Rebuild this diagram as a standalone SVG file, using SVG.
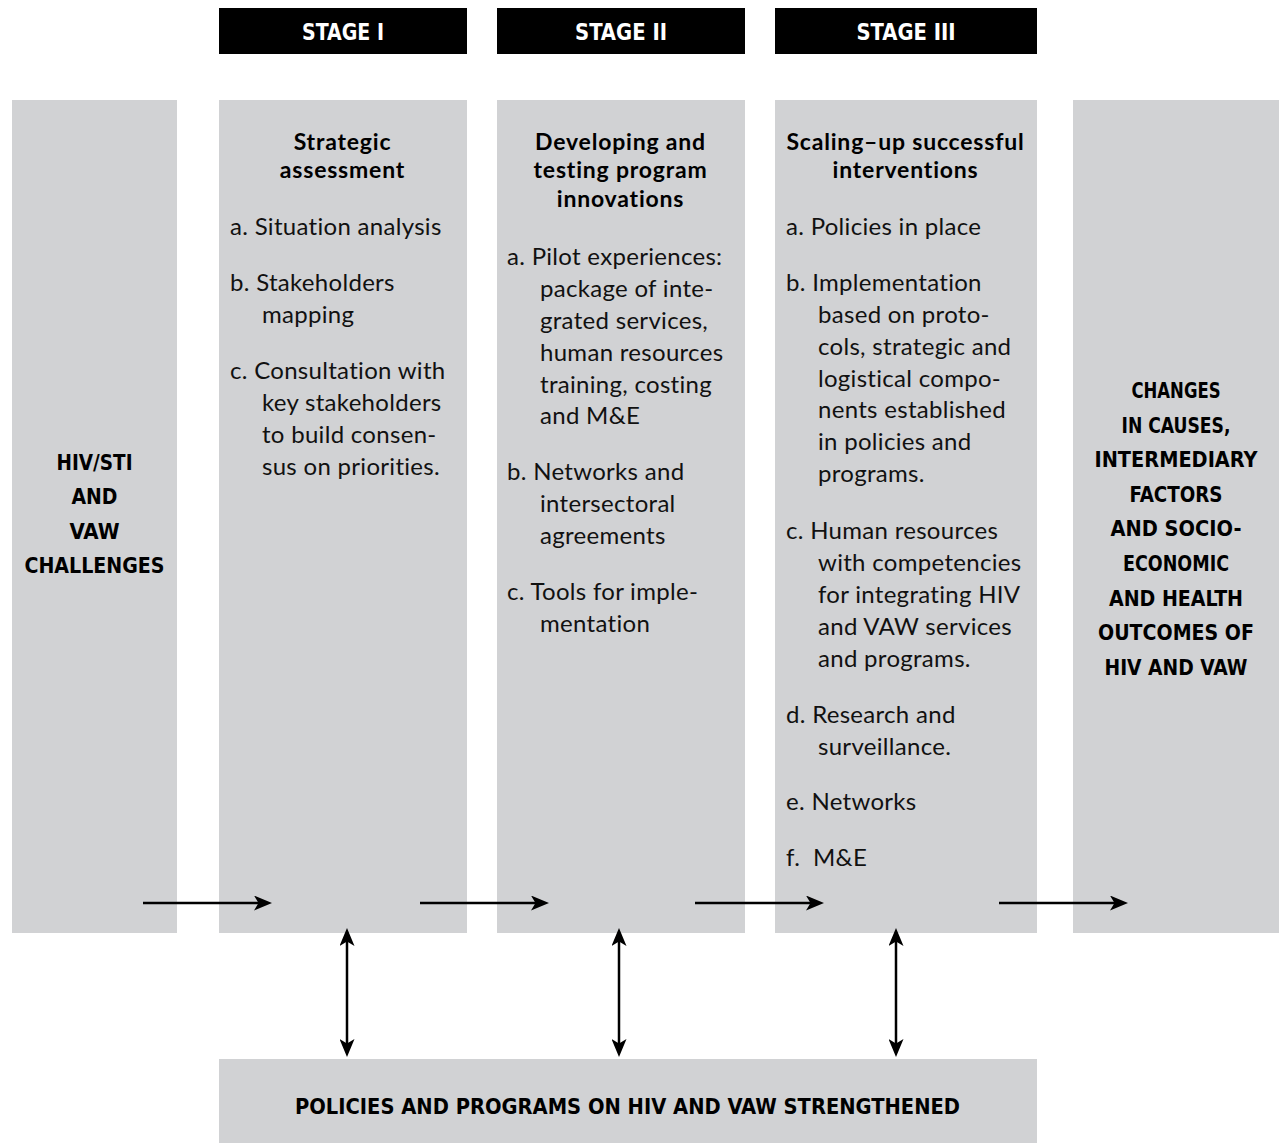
<svg xmlns="http://www.w3.org/2000/svg" width="1279" height="1143" viewBox="0 0 1279 1143">
<defs>
<style>
.box{fill:#d1d2d4}
.hdr{fill:#000}
.cap{font-family:"DejaVu Sans Condensed","DejaVu Sans",sans-serif;font-stretch:condensed;font-weight:bold;font-size:22px;fill:#000}
.hw{fill:#fff;font-size:23px}
.ttl{font-family:Lato,"Open Sans",sans-serif;font-weight:bold;font-size:23px;letter-spacing:0.8px;fill:#000;text-anchor:middle}
.txt{font-family:Lato,"Open Sans",sans-serif;font-size:24px;letter-spacing:0.3px;fill:#111}
.mid{text-anchor:middle}
.ln{stroke:#000;stroke-width:2.5;fill:none}
</style>
<marker id="ah" viewBox="0 0 18 15" markerUnits="userSpaceOnUse" markerWidth="18" markerHeight="15" refX="10" refY="7.5" orient="auto-start-reverse">
<path d="M0,0 L18,7.5 L0,15 L4.5,7.5 z" fill="#000"/>
</marker>
</defs>
<rect width="1279" height="1143" fill="#fff"/>

<g id="stage1-header">
<rect class="hdr" x="219" y="8" width="248" height="46"/>
<text class="cap hw mid" x="343" y="40" textLength="82" lengthAdjust="spacingAndGlyphs">STAGE I</text>
</g>
<g id="stage2-header">
<rect class="hdr" x="497" y="8" width="248" height="46"/>
<text class="cap hw mid" x="621" y="40" textLength="92" lengthAdjust="spacingAndGlyphs">STAGE II</text>
</g>
<g id="stage3-header">
<rect class="hdr" x="775" y="8" width="262" height="46"/>
<text class="cap hw mid" x="906" y="40" textLength="99" lengthAdjust="spacingAndGlyphs">STAGE III</text>
</g>

<g id="challenges">
<rect class="box" x="12" y="100" width="165" height="833"/>
<text class="cap mid" x="94.5" y="470" textLength="76" lengthAdjust="spacingAndGlyphs">HIV/STI</text>
<text class="cap mid" x="94.5" y="504" textLength="46" lengthAdjust="spacingAndGlyphs">AND</text>
<text class="cap mid" x="94.5" y="539" textLength="50" lengthAdjust="spacingAndGlyphs">VAW</text>
<text class="cap mid" x="94.5" y="573" textLength="140" lengthAdjust="spacingAndGlyphs">CHALLENGES</text>
</g>

<g id="stage1">
<rect class="box" x="219" y="100" width="248" height="833"/>
<text class="ttl" x="342.5" y="150">Strategic</text>
<text class="ttl" x="342.5" y="178">assessment</text>
<text class="txt" x="230" y="235">a. Situation analysis</text>
<text class="txt" x="230" y="291">b. Stakeholders</text>
<text class="txt" x="262" y="323">mapping</text>
<text class="txt" x="230" y="379">c. Consultation with</text>
<text class="txt" x="262" y="411">key stakeholders</text>
<text class="txt" x="262" y="443">to build consen-</text>
<text class="txt" x="262" y="475">sus on priorities.</text>
</g>

<g id="stage2">
<rect class="box" x="497" y="100" width="248" height="833"/>
<text class="ttl" x="620.5" y="150">Developing and</text>
<text class="ttl" x="620.5" y="178">testing program</text>
<text class="ttl" x="620.5" y="207">innovations</text>
<text class="txt" x="507" y="265">a. Pilot experiences:</text>
<text class="txt" x="540" y="297">package of inte-</text>
<text class="txt" x="540" y="329">grated services,</text>
<text class="txt" x="540" y="361">human resources</text>
<text class="txt" x="540" y="393">training, costing</text>
<text class="txt" x="540" y="424">and M&amp;E</text>
<text class="txt" x="507" y="480">b. Networks and</text>
<text class="txt" x="540" y="512">intersectoral</text>
<text class="txt" x="540" y="544">agreements</text>
<text class="txt" x="507" y="600">c. Tools for imple-</text>
<text class="txt" x="540" y="632">mentation</text>
</g>

<g id="stage3">
<rect class="box" x="775" y="100" width="262" height="833"/>
<text class="ttl" x="905.5" y="150">Scaling–up successful</text>
<text class="ttl" x="905.5" y="178">interventions</text>
<text class="txt" x="786" y="235">a. Policies in place</text>
<text class="txt" x="786" y="291">b. Implementation</text>
<text class="txt" x="818" y="323">based on proto-</text>
<text class="txt" x="818" y="355">cols, strategic and</text>
<text class="txt" x="818" y="387">logistical compo-</text>
<text class="txt" x="818" y="418">nents established</text>
<text class="txt" x="818" y="450">in policies and</text>
<text class="txt" x="818" y="482">programs.</text>
<text class="txt" x="786" y="539">c. Human resources</text>
<text class="txt" x="818" y="571">with competencies</text>
<text class="txt" x="818" y="603">for integrating HIV</text>
<text class="txt" x="818" y="635">and VAW services</text>
<text class="txt" x="818" y="667">and programs.</text>
<text class="txt" x="786" y="723">d. Research and</text>
<text class="txt" x="818" y="755">surveillance.</text>
<text class="txt" x="786" y="810">e. Networks</text>
<text class="txt" x="786" y="866">f. <tspan x="813">M&amp;E</tspan></text>
</g>

<g id="outcomes">
<rect class="box" x="1073" y="100" width="206" height="833"/>
<text class="cap mid" x="1176" y="398" textLength="89" lengthAdjust="spacingAndGlyphs">CHANGES</text>
<text class="cap mid" x="1176" y="433" textLength="109" lengthAdjust="spacingAndGlyphs">IN CAUSES,</text>
<text class="cap mid" x="1176" y="467" textLength="163" lengthAdjust="spacingAndGlyphs">INTERMEDIARY</text>
<text class="cap mid" x="1176" y="502" textLength="93" lengthAdjust="spacingAndGlyphs">FACTORS</text>
<text class="cap mid" x="1176" y="536" textLength="131" lengthAdjust="spacingAndGlyphs">AND SOCIO-</text>
<text class="cap mid" x="1176" y="571" textLength="106" lengthAdjust="spacingAndGlyphs">ECONOMIC</text>
<text class="cap mid" x="1176" y="606" textLength="134" lengthAdjust="spacingAndGlyphs">AND HEALTH</text>
<text class="cap mid" x="1176" y="640" textLength="156" lengthAdjust="spacingAndGlyphs">OUTCOMES OF</text>
<text class="cap mid" x="1176" y="675" textLength="143" lengthAdjust="spacingAndGlyphs">HIV AND VAW</text>
</g>

<g id="policies">
<rect class="box" x="219" y="1059" width="818" height="84"/>
<text class="cap mid" x="627.5" y="1114" textLength="665" lengthAdjust="spacingAndGlyphs">POLICIES AND PROGRAMS ON HIV AND VAW STRENGTHENED</text>
</g>

<g id="connectors">
<line class="ln" x1="143" y1="903" x2="264" y2="903" marker-end="url(#ah)"/>
<line class="ln" x1="420" y1="903" x2="541" y2="903" marker-end="url(#ah)"/>
<line class="ln" x1="695" y1="903" x2="816" y2="903" marker-end="url(#ah)"/>
<line class="ln" x1="999" y1="903" x2="1120" y2="903" marker-end="url(#ah)"/>
<line class="ln" x1="347" y1="936" x2="347" y2="1049" marker-start="url(#ah)" marker-end="url(#ah)"/>
<line class="ln" x1="619" y1="936" x2="619" y2="1049" marker-start="url(#ah)" marker-end="url(#ah)"/>
<line class="ln" x1="896" y1="936" x2="896" y2="1049" marker-start="url(#ah)" marker-end="url(#ah)"/>
</g>
</svg>
